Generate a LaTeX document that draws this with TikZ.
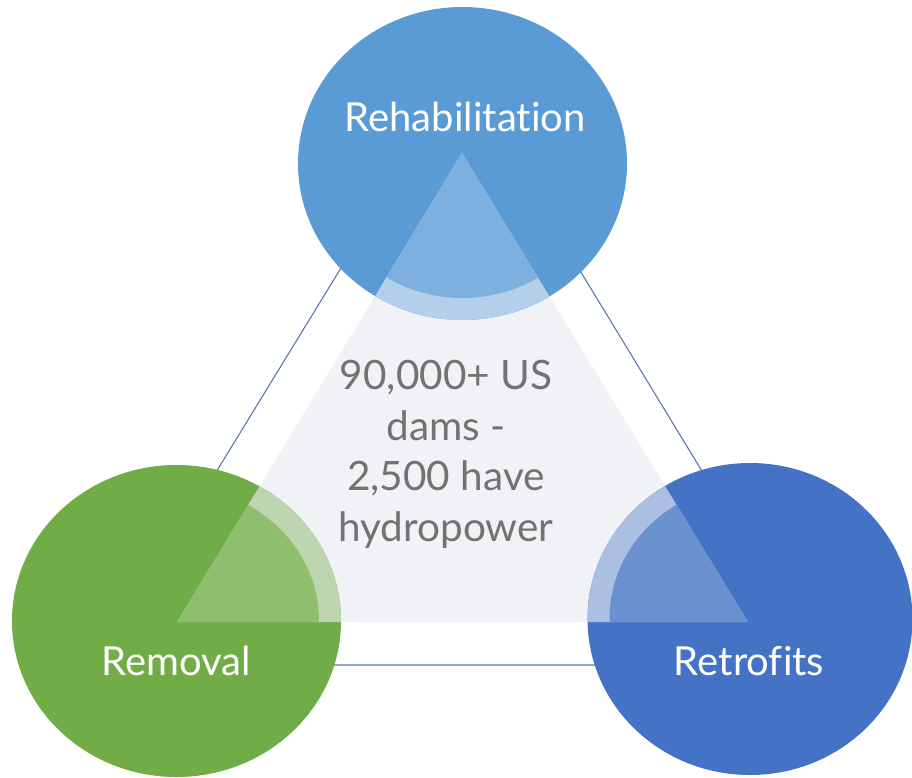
\documentclass[tikz,border=0pt]{standalone}
\usepackage{fontspec}
\setmainfont{Lato}[Ligatures=NoCommon]
\definecolor{rehabC}{HTML}{5B9BD5}
\definecolor{remC}{HTML}{70AD47}
\definecolor{retroC}{HTML}{4472C4}
\definecolor{triC}{HTML}{F0F2F6}
\definecolor{lineC}{HTML}{5A78A6}
\definecolor{txtC}{HTML}{767171}
\tikzset{
  outline/.style={draw=lineC, line width=1.1pt},
  labeltext/.style={text=white, anchor=base, inner sep=0pt, font=\fontsize{40}{48}\selectfont},
  centertext/.style={text=txtC, anchor=north, inner sep=0pt, align=center, font=\fontsize{40.5}{50.7}\selectfont}
}
\begin{document}
\begin{tikzpicture}[x=1pt,y=-1pt]
\useasboundingbox (0,0) rectangle (912,777);
% outer thin triangle
\coordinate (oA) at (460,73.5);
\coordinate (oB) at (98,665);
\coordinate (oC) at (820,665);
\draw[outline] (oA) -- (oB) -- (oC) -- cycle;
% inner gray triangle
\coordinate (tA) at (462,153);
\coordinate (tB) at (177,622);
\coordinate (tC) at (748,622);
\fill[triC] (tA) -- (tB) -- (tC) -- cycle;
% ellipses
\fill[rehabC] (462.5,163.5) ellipse [x radius=164.5pt, y radius=156.5pt];
\fill[remC] (176.5,621) ellipse [x radius=164.5pt, y radius=156pt];
\fill[retroC] (750,619) ellipse [x radius=162.5pt, y radius=156pt];
% overlaps with triangle
\begin{scope}
  \clip (tA) -- (tB) -- (tC) -- cycle;
  \fill[rehabC!40!triC] (462.5,163.5) ellipse [x radius=164.5pt, y radius=156.5pt];
  \fill[rehabC!79!white] (462.5,163.5) ellipse [x radius=142.5pt, y radius=134.5pt];
  \fill[remC!40!triC] (176.5,621) ellipse [x radius=164.5pt, y radius=156pt];
  \fill[remC!79!white] (176.5,621) ellipse [x radius=142.5pt, y radius=134pt];
  \fill[retroC!40!triC] (750,619) ellipse [x radius=162.5pt, y radius=156pt];
  \fill[retroC!79!white] (750,619) ellipse [x radius=140.5pt, y radius=134pt];
\end{scope}
% labels
\node[labeltext] (rehab) at (465,131.7) {Rehabilitation};
\node[labeltext] (removal) at (176,675) {Removal};
\node[labeltext] (retro) at (749,675) {Retrofits};
\node[centertext] (center) at (446,360) {90,000+ US\\dams -\\2,500 have\\hydropower};
\end{tikzpicture}
\end{document}
